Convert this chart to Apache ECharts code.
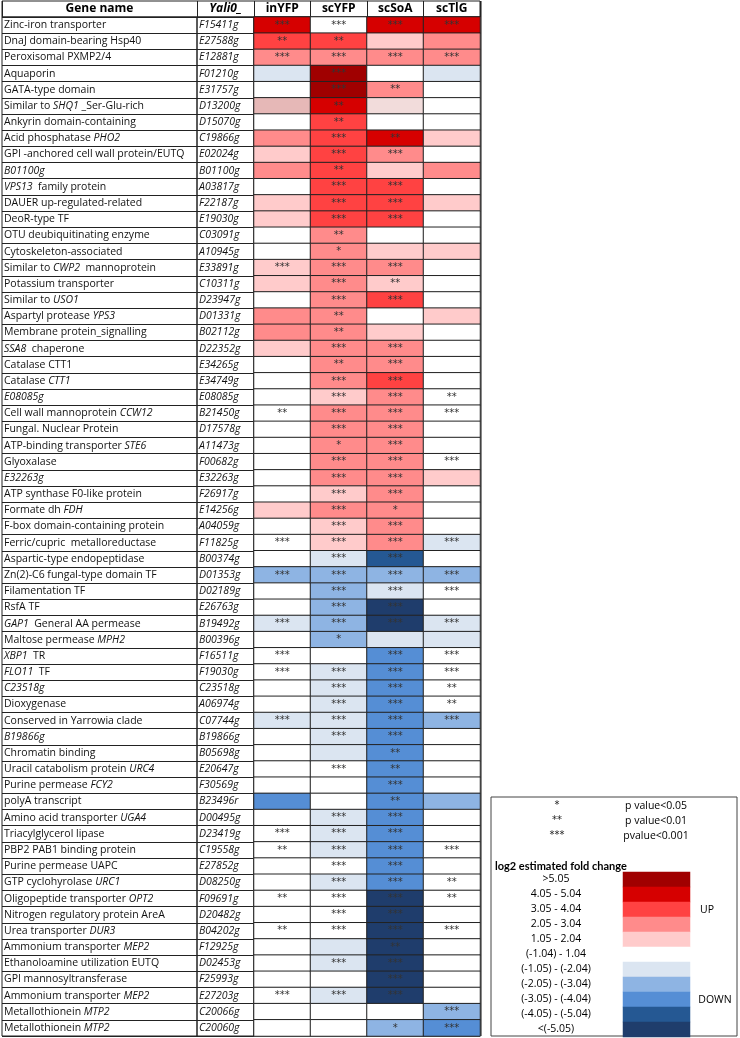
<!DOCTYPE html>
<html>
<head>
<meta charset="utf-8">
<script src="https://cdn.jsdelivr.net/npm/echarts@6/dist/echarts.min.js"></script>
<style>
html,body{margin:0;padding:0;background:#fff;}
#chart{width:740px;height:1038px;}
</style>
</head>
<body>
<div id="chart"></div>
<script>
// gene names, {i|..} = italic part
var genes = [
	'Zinc-iron transporter','DnaJ domain-bearing Hsp40','Peroxisomal PXMP2/4','Aquaporin','GATA-type domain',
	'Similar to {i|SHQ1} _Ser-Glu-rich','Ankyrin domain-containing','Acid phosphatase {i|PHO2}','GPI -anchored cell wall protein/EUTQ','{i|B01100g}',
	'{i|VPS13}  family protein','DAUER up-regulated-related','DeoR-type TF','OTU deubiquitinating enzyme','Cytoskeleton-associated',
	'Similar to {i|CWP2}  mannoprotein','Potassium transporter','Similar to {i|USO1}','Aspartyl protease {i|YPS3}','Membrane protein_signalling',
	'{i|SSA8}  chaperone','Catalase CTT1','Catalase {i|CTT1}','{i|E08085g}','Cell wall mannoprotein {i|CCW12}',
	'Fungal. Nuclear Protein','ATP-binding transporter {i|STE6}','Glyoxalase','{i|E32263g}','ATP synthase F0-like protein',
	'Formate dh {i|FDH}','F-box domain-containing protein','Ferric/cupric  metalloreductase','Aspartic-type endopeptidase','Zn(2)-C6 fungal-type domain TF',
	'Filamentation TF','RsfA TF','{i|GAP1}  General AA permease','Maltose permease {i|MPH2}','{i|XBP1}  TR',
	'{i|FLO11}  TF','{i|C23518g}','Dioxygenase','Conserved in Yarrowia clade','{i|B19866g}',
	'Chromatin binding','Uracil catabolism protein {i|URC4}','Purine permease {i|FCY2}','polyA transcript','Amino acid transporter {i|UGA4}',
	'Triacylglycerol lipase','PBP2 PAB1 binding protein','Purine permease UAPC','GTP cyclohyrolase {i|URC1}','Oligopeptide transporter {i|OPT2}',
	'Nitrogen regulatory protein AreA','Urea transporter {i|DUR3}','Ammonium transporter {i|MEP2}','Ethanoloamine utilization EUTQ','GPI mannosyltransferase',
	'Ammonium transporter {i|MEP2}','Metallothionein {i|MTP2}','Metallothionein {i|MTP2}'
];
var ids = [
	'F15411g','E27588g','E12881g','F01210g','E31757g','D13200g','D15070g','C19866g','E02024g','B01100g',
	'A03817g','F22187g','E19030g','C03091g','A10945g','E33891g','C10311g','D23947g','D01331g','B02112g',
	'D22352g','E34265g','E34749g','E08085g','B21450g','D17578g','A11473g','F00682g','E32263g','F26917g',
	'E14256g','A04059g','F11825g','B00374g','D01353g','D02189g','E26763g','B19492g','B00396g','F16511g',
	'F19030g','C23518g','A06974g','C07744g','B19866g','B05698g','E20647g','F30569g','B23496r','D00495g',
	'D23419g','C19558g','E27852g','D08250g','F09691g','D20482g','B04202g','F12925g','D02453g','F25993g',
	'E27203g','C20066g','C20060g'
];
var columns = ['inYFP','scYFP','scSoA','scTlG'];

// fold change class per cell (5..-5, 0 = none); 1.5 / 0.5 = the two odd pink shades
var inYFP_fc = [4,3,2,-1,0,1.5,0,2,1,2, 0,1,1,0,0,1,1,0,2,2, 1,0,0,0,0,0,0,0,0,0, 1,0,0,0,-2,0,0,-1,0,0, 0,0,0,-1,0,0,0,0,-3,0, 0,0,0,0,0,0,0,0,0,0, 0,0,0];
var scYFP_fc = [0,3,2,5,5,4,3,3,3,3, 3,3,3,2,2,2,2,2,2,2, 2,2,2,1,2,2,2,2,2,1, 2,1,1,-1,-2,-2,-2,-2,-2,0, -1,-1,-1,-1,-1,-1,0,0,0,-1, -1,-1,0,-1,0,0,0,-1,-1,0, -1,0,0];
var scSoA_fc = [4,1,2,0,2,0.5,0,4,2,1, 3,3,3,0,1,2,1,3,0,1, 2,2,3,2,2,2,2,2,2,2, 2,2,2,-4,-2,-1,-5,-5,-1,-3, -3,-3,-3,-3,-3,-3,-3,-3,-3,-3, -3,-3,-3,-3,-5,-5,-5,-5,-5,-5, -5,0,-2];
var scTlG_fc = [4,2,2,-1,0,0,0,1,0,2, 0,1,0,0,1,0,0,0,1,0, 0,0,0,0,0,0,0,0,1,0, 0,0,-1,0,-2,0,0,-1,-1,0, 0,0,0,-2,0,0,0,0,-2,0, 0,0,0,0,0,0,0,0,0,0, 0,-2,-3];

// number of stars per cell
var inYFP_sig = [3,2,3,0,0,0,0,0,0,0, 0,0,0,0,0,3,0,0,0,0, 0,0,0,0,2,0,0,0,0,0, 0,0,3,0,3,0,0,3,0,3, 3,0,0,3,0,0,0,0,0,0, 3,2,0,0,2,0,2,0,0,0, 3,0,0];
var scYFP_sig = [3,2,3,3,3,2,2,3,3,2, 3,3,3,2,1,3,3,3,2,2, 3,2,3,3,3,3,1,3,3,3, 3,3,3,3,3,3,3,3,1,0, 3,3,3,3,3,0,3,0,0,3, 3,3,3,3,3,3,3,0,3,0, 3,0,0];
var scSoA_sig = [3,0,3,0,2,0,0,2,3,0, 3,3,3,0,0,3,2,3,0,0, 3,3,3,3,3,3,3,3,3,3, 1,3,3,3,3,3,3,3,0,3, 3,3,3,3,3,2,2,3,2,3, 3,3,3,3,3,3,3,2,3,3, 3,0,1];
var scTlG_sig = [3,0,3,0,0,0,0,0,0,0, 0,0,0,0,0,0,0,0,0,0, 0,0,0,2,3,0,0,3,0,0, 0,0,3,0,3,3,0,3,0,3, 3,2,2,3,0,0,0,0,0,0, 0,3,0,2,2,0,3,0,0,0, 0,3,3];

// colour key
var levelValues = [5,4,3,2,1,1.5,0.5,0,-1,-2,-3,-4,-5];
var levelColors = ['#a00000','#d60000','#ff4242','#ff8b8b','#ffcbcb','#e6b8b7','#f2dcdb','#ffffff','#dbe5f1','#8eb4e3','#558ed5','#255893','#1f3d6c'];
var legendRanges = ['>5.05','4.05 - 5.04','3.05 - 4.04','2.05 - 3.04','1.05 - 2.04','(-1.04) - 1.04','(-1.05) - (-2.04)','(-2.05) - (-3.04)','(-3.05) - (-4.04)','(-4.05) - (-5.04)','<(-5.05)'];
var legendLevels = [5,4,3,2,1,0,-1,-2,-3,-4,-5];
var sigMarks = ['*','**','***'];
var sigTexts = ['p value<0.05','p value<0.01','pvalue<0.001'];

var font = 'Open Sans';
var fontSize = 10.5;
var lineColor = '#222';
var fcCols = [inYFP_fc, scYFP_fc, scSoA_fc, scTlG_fc];
var sigCols = [inYFP_sig, scYFP_sig, scSoA_sig, scTlG_sig];

var cells = [];
for (var c = 0; c < columns.length; c++) {
	for (var r = 0; r < genes.length; r++) {
		cells.push([c, r, fcCols[c][r], sigCols[c][r]]);
	}
}
var legendCells = [];
for (var k = 0; k < legendLevels.length; k++) {
	legendCells.push([0, k, legendLevels[k]]);
}
var rowKeys = genes.map(function (g, i) { return String(i); });

var tableTop = 17, tableBottom = 1036;

function makeGrid(left, width) {
	return {show: true, borderColor: lineColor, borderWidth: 1, left: left, width: width, top: tableTop, height: tableBottom - tableTop};
}
function headAxis(idx, names, italic) {
	return {
		gridIndex: idx, type: 'category', position: 'top', data: names,
		axisLine: {show: false},
		axisTick: {show: true, length: 16, lineStyle: {color: lineColor}},
		axisLabel: {margin: 2, fontWeight: 'bold', fontStyle: italic ? 'italic' : 'normal', fontSize: 12, color: '#000', fontFamily: font},
		splitLine: {show: false}
	};
}
function rowAxis(idx, formatter, italic) {
	return {
		gridIndex: idx, type: 'category', inverse: true, data: rowKeys,
		axisLine: {show: false}, axisTick: {show: false},
		axisLabel: {
			show: formatter != null, inside: true, margin: 2, interval: 0,
			fontSize: fontSize, color: '#111', fontFamily: font, fontStyle: italic ? 'italic' : 'normal',
			formatter: formatter,
			rich: {i: {fontStyle: 'italic', fontSize: fontSize, color: '#111', fontFamily: font}}
		},
		splitLine: {show: formatter != null, interval: 0, lineStyle: {color: lineColor, width: 1}}
	};
}

var graphics = [
	{type: 'rect', shape: {x: 2, y: 1, width: 478, height: tableTop - 1}, style: {fill: null, stroke: lineColor, lineWidth: 1}},
	{type: 'line', shape: {x1: 481, y1: 1, x2: 481, y2: tableBottom}, style: {stroke: '#888', lineWidth: 2}},
	{type: 'rect', shape: {x: 491, y: 797, width: 246, height: 239}, style: {fill: null, stroke: '#444', lineWidth: 1}},
	{type: 'text', x: 495, y: 866, style: {text: 'log2 estimated fold change', font: 'bold 11px Lato', fill: '#000', verticalAlign: 'middle'}},
	{type: 'text', x: 707, y: 910, style: {text: 'UP', font: fontSize + 'px ' + font, fill: '#000', align: 'center', verticalAlign: 'middle'}},
	{type: 'text', x: 715, y: 1000, style: {text: 'DOWN', font: fontSize + 'px ' + font, fill: '#000', align: 'center', verticalAlign: 'middle'}}
];
for (var s = 0; s < sigMarks.length; s++) {
	graphics.push({type: 'text', x: 557, y: 805 + s * 15, style: {text: sigMarks[s], font: '10px DejaVu Sans', fill: '#222', align: 'center', verticalAlign: 'middle'}});
	graphics.push({type: 'text', x: 656, y: 806 + s * 15, style: {text: sigTexts[s], font: fontSize + 'px ' + font, fill: '#000', align: 'center', verticalAlign: 'middle'}});
}

var my_chart = echarts.init(document.getElementById('chart'), null, {renderer: 'canvas'});
my_chart.setOption({
	animation: false,
	backgroundColor: '#fff',
	grid: [
		makeGrid(2, 195),
		makeGrid(197, 57),
		makeGrid(254, 226),
		{left: 623, top: 872, width: 67, height: 165}
	],
	xAxis: [
		headAxis(0, ['Gene name'], false),
		headAxis(1, ['Yali0_'], true),
		headAxis(2, columns, false),
		{gridIndex: 3, type: 'category', data: [''], show: false}
	],
	yAxis: [
		rowAxis(0, function (v) { return genes[+v]; }, false),
		rowAxis(1, function (v) { return ids[+v]; }, true),
		rowAxis(2, null, false),
		{
			gridIndex: 3, type: 'category', inverse: true, data: legendRanges,
			axisLine: {show: false}, axisTick: {show: false}, splitLine: {show: false},
			axisLabel: {interval: 0, align: 'center', margin: 67, fontSize: fontSize, color: '#000', fontFamily: font}
		}
	],
	visualMap: {
		type: 'piecewise', show: false, dimension: 2, seriesIndex: [0, 1],
		pieces: levelValues.map(function (v, i) { return {value: v, color: levelColors[i]}; })
	},
	series: [
		{
			type: 'heatmap', xAxisIndex: 2, yAxisIndex: 2, data: cells,
			itemStyle: {borderColor: lineColor, borderWidth: 1},
			label: {
				show: true, fontSize: 10, color: '#333', fontFamily: 'DejaVu Sans',
				formatter: function (p) { return p.data[3] ? '*'.repeat(p.data[3]) : ''; }
			},
			emphasis: {disabled: true}
		},
		{
			type: 'heatmap', xAxisIndex: 3, yAxisIndex: 3, data: legendCells,
			itemStyle: {borderWidth: 0},
			emphasis: {disabled: true}
		}
	],
	graphic: graphics
});
</script>
</body>
</html>
